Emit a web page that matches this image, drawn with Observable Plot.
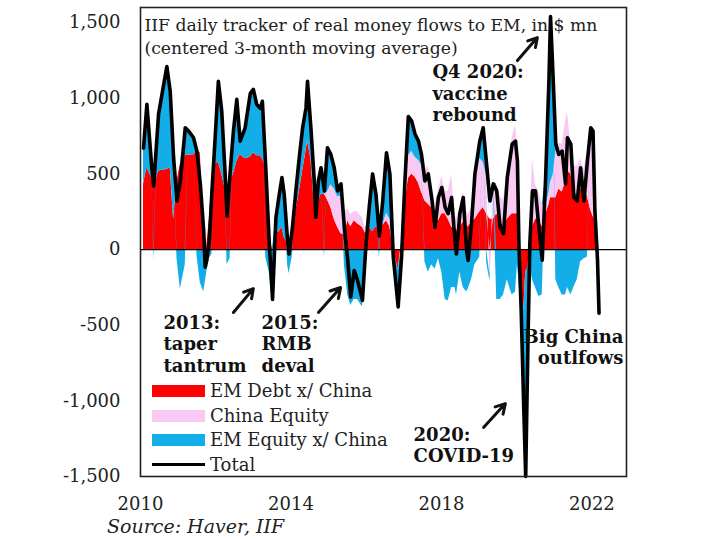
<!DOCTYPE html>
<html><head><meta charset="utf-8">
<script src="https://cdn.jsdelivr.net/npm/d3@7"></script>
<script src="https://cdn.jsdelivr.net/npm/@observablehq/plot@0.6"></script>
<style>
body{margin:0;background:#fff;}
#wrap{position:relative;width:723px;height:539px;font-family:"DejaVu Serif",serif;color:#222;}
#legend{position:absolute;left:152px;top:379px;font-size:18px;line-height:24.5px;}
.row{display:flex;align-items:center;height:24.5px;white-space:nowrap;}
.sw{width:53px;height:12px;margin-right:5px;flex:none;}
.ln{width:53px;height:3px;margin-right:5px;background:#000;flex:none;}
#source{position:absolute;left:107px;top:515px;font-style:italic;font-size:19px;white-space:nowrap;}
</style></head>
<body><div id="wrap"></div>
<script>
// decimal-year sample dates
const years = [
 2010.08, 2010.17, 2010.30, 2010.35, 2010.48, 2010.70, 2010.79, 2010.88, 2010.97, 2011.06,
 2011.19, 2011.28, 2011.41, 2011.50, 2011.59, 2011.68, 2011.72, 2011.76, 2011.83, 2011.90,
 2011.99, 2012.07, 2012.16, 2012.25, 2012.30, 2012.38, 2012.47, 2012.56, 2012.65, 2012.78,
 2012.92, 2013.00, 2013.09, 2013.18, 2013.24,
 2013.33, 2013.42, 2013.51, 2013.60, 2013.69, 2013.76, 2013.82, 2013.91, 2013.95, 2014.04,
 2014.13, 2014.22, 2014.31, 2014.40, 2014.44, 2014.53, 2014.62, 2014.66, 2014.73, 2014.80,
 2014.89, 2014.97, 2015.06, 2015.15, 2015.24, 2015.33, 2015.42, 2015.51, 2015.59, 2015.68,
 2015.77, 2015.90, 2015.99, 2016.08, 2016.17, 2016.26, 2016.35, 2016.44, 2016.54,
 2016.63, 2016.72, 2016.85, 2016.94, 2017.03, 2017.12, 2017.21, 2017.30, 2017.39, 2017.47,
 2017.56, 2017.65, 2017.74, 2017.83, 2017.92, 2018.01, 2018.10, 2018.18, 2018.27, 2018.36,
 2018.40, 2018.49, 2018.58, 2018.67, 2018.71, 2018.80, 2018.89, 2019.02, 2019.11, 2019.20,
 2019.29, 2019.38, 2019.47, 2019.56, 2019.65, 2019.75, 2019.88, 2019.97,
 2020.02, 2020.06, 2020.12, 2020.19, 2020.24, 2020.30, 2020.35, 2020.42, 2020.50, 2020.59,
 2020.68, 2020.77, 2020.86, 2020.90, 2020.97, 2021.04, 2021.12, 2021.21, 2021.30, 2021.35,
 2021.44, 2021.52, 2021.61, 2021.70, 2021.79, 2021.88, 2021.97, 2022.03, 2022.08, 2022.15,
 2022.19
];
// Total (black line), $ mn
const total = [
 671, 960, 541, 420, 895, 1210, 1046, 607, 322, 454,
 805, 783, 739, 651, 434, 125, -116, -72, 59, 388,
 762, 1112, 914, 500, 220, 500, 783, 993, 717, 803,
 1033, 1059, 960, 934, 980,
 541, 59, -330, 212, 366, 476, 366, 59, -29, 147,
 388, 607, 805, 936, 1112, 805, 454, 212, 454, 541,
 388, 673, 629, 541, 388, 434, 147, -72, -314, -138,
 -204, -336, 15, 278, 500, 366, 90, 322, 640,
 500, -50, -379, -50, 454, 880, 849, 762, 717, 629,
 454, 500, 344, 147, 344, 410, 278, 237, 344, 59,
 -29, 237, 344, -7, -72, 171, 500, 717, 805, 566,
 322, 434, 388, 150, 105, 476, 697, 717,
 585, 37, -400, -1059, -1500, -620, 37, 388, 388, 147,
 -70, 476, 1134, 1540, 1134, 697, 629, 651, 434, 739,
 697, 344, 322, 541, 322, 585, 805, 783, 257, -72,
 -421
];
// EM Debt x/ China (red)
const emDebt = [
 434, 540, 474, 408, 520, 530, 540, 200, 450, 566,
 620, 625, 625, 650, 640, 150, 0, 20, 200, 454,
 560, 580, 500, 400, 300, 450, 500, 580, 629, 600,
 610, 640, 620, 620, 600,
 540, 100, 0, 105, 120, 147, 80, 40, 40, 100,
 250, 380, 520, 650, 720, 600, 300, 190, 320, 366,
 366, 330, 278, 200, 147, 105, 100, 190, 150, 190,
 170, 147, 105, 147, 120, 147, 140, 160, 190,
 150, 0, -130, 50, 300, 470, 500, 480, 440, 380,
 322, 300, 278, 200, 190, 237, 237, 200, 150, 125,
 125, 150, 180, 150, 150, 180, 200, 250, 278, 237,
 200, 200, 237, 200, 150, 200, 237, 237,
 237, 100, -350, -400, -150, -120, 50, 150, 200, 200,
 150, 230, 300, 343, 343, 343, 400, 380, 450, 520,
 500, 400, 350, 400, 430, 350, 260, 220, 200, 50,
 0
];
// China Equity (pink)
const chinaEquity = [
 0, 0, 0, 0, 0, 0, 0, 0, 0, 0,
 0, 0, 0, 0, 0, 0, 0, 0, 0, 0,
 0, 0, 0, 0, 0, 0, 0, 0, 0, 0,
 0, 0, 0, 0, 0,
 0, 0, 0, 0, 0, 0, 0, 0, 0, 0,
 0, 0, 0, 0, 0, 0, 0, 0, 0, 0,
 0, 50, 150, 200, 200, 250, 150, 80, 80, 60,
 80, 60, 30, 0, 0, 0, 0, 0, 50,
 50, 0, 0, 0, 50, 150, 150, 130, 150, 180,
 200, 250, 150, 100, 200, 250, 150, 180, 350, 100,
 80, 120, 200, 100, 80, 100, 250, 350, 300, 250,
 -170, 200, 200, 150, 180, 300, 500, 590,
 450, 150, 0, 0, 0, 0, 100, 450, 230, 180,
 150, 50, 80, 100, 150, 300, 300, 320, 400, 390,
 200, 150, 200, 200, 100, 300, 500, 560, 150, 0,
 0
];
// EM Equity x/ China (blue): upper envelope (inflow days)
const emEquityUp = [
 237, 420, 67, 20, 375, 680, 506, 407, 0, 0,
 185, 158, 114, 0, 0, 0, 0, 0, 0, 0,
 202, 532, 414, 100, 0, 50, 283, 413, 88, 203,
 423, 419, 340, 314, 380,
 0, 0, 0, 107, 246, 329, 286, 19, 0, 47,
 138, 227, 285, 286, 392, 205, 154, 22, 134, 175,
 22, 293, 201, 141, 41, 79, 0, 0, 0, 0,
 0, 0, 0, 131, 380, 219, 0, 162, 400,
 300, 0, 0, 0, 104, 260, 199, 152, 127, 69,
 0, 0, 0, 0, 0, 0, 0, 0, 0, 0,
 0, 0, 0, 0, 0, 0, 50, 117, 227, 50,
 0, 34, 0, 0, 0, 0, 0, 0,
 0, 0, 0, 0, 0, 0, 0, 0, 0, 0,
 0, 196, 750, 900, 600, 54, 0, 0, 0, 0,
 0, 0, 0, 0, 0, 0, 45, 0, 0, 50,
 0
];
// EM Equity x/ China (blue): lower envelope (outflow days)
const emEquityDown = [
 0, 0, 0, -70, 0, 0, 0, 0, -60, -260,
 -100, 0, 0, -40, -220, -280, -220, -150, -60, -30,
 0, 0, 0, 0, -100, -60, 0, 0, 0, 0,
 0, 0, 0, 0, 0,
 -50, -150, -340, 0, 0, 0, 0, -100, -160, -40,
 0, 0, 0, 0, 0, 0, 0, 0, 0, 0,
 -60, 0, 0, 0, 0, 0, -100, -300, -370, -330,
 -330, -380, -150, 0, 0, 0, -60, 0, 0,
 0, -100, -270, -120, 0, 0, 0, 0, 0, 0,
 -80, -150, -100, -130, -60, -150, -330, -340, -250, -250,
 -300, -150, -250, -280, -260, -200, -100, -50, 0, -80,
 -40, 0, -330, -330, -300, -200, -300, -280,
 -100, -200, -100, -650, -1350, -500, -100, -200, -250, -310,
 -300, 0, 0, 0, 0, -200, -250, -300, -300, -250,
 -300, -250, -200, -80, -60, -50, 0, 0, 0, -100,
 -60
];
const yTicks = [-1500, -1000, -500, 0, 500, 1000, 1500];
const xTicks = [2010, 2014, 2018, 2022];
const seriesKeys = ["EM Debt x/ China", "China Equity", "EM Equity x/ China (in)", "EM Equity x/ China (out)"];
const seriesColors = ["#ff0000", "#f9c8f3", "#13aee8", "#13aee8"];
const legendItems = ["EM Debt x/ China", "China Equity", "EM Equity x/ China", "Total"];
const legendColors = ["#ff0000", "#f9c8f3", "#13aee8", "#000000"];
const title = "IIF daily tracker of real money flows to EM, in $ mn\n(centered 3-month moving average)";
const notesLeft = [
  {x: 2010.61, y: -621, label: "2013:\ntaper\ntantrum"},
  {x: 2013.22, y: -621, label: "2015:\nRMB\ndeval"},
  {x: 2017.76, y: 1036, label: "Q4 2020:\nvaccine\nrebound"},
  {x: 2017.26, y: -1289, label: "2020:\nCOVID-19"}
];
const notesRight = [
  {x: 2022.84, y: -641, label: "Big China\noutlfows"}
];
const arrows = [
  {x1: 2012.47, y1: -416, x2: 2013.00, y2: -258},
  {x1: 2014.73, y1: -416, x2: 2015.32, y2: -251},
  {x1: 2020.02, y1: 1249, x2: 2020.55, y2: 1401},
  {x1: 2019.12, y1: -1176, x2: 2019.70, y2: -1018}
];

const stackRows = [];
const comps = [emDebt, chinaEquity, emEquityUp, emEquityDown];
years.forEach((t, i) => comps.forEach((arr, k) => stackRows.push({t, series: seriesKeys[k], v: arr[i]})));
const lineRows = years.map((t, i) => ({t, v: total[i]}));
const fmt = d => (d < 0 ? "-" : "") + d3.format(",")(Math.abs(d));

const chart = Plot.plot({
  width: 723, height: 512,
  marginLeft: 140, marginRight: 97, marginTop: 7, marginBottom: 36,
  style: {fontFamily: "DejaVu Serif, serif", fontSize: "18px", color: "#222", background: "transparent", overflow: "visible"},
  x: {domain: [2010, 2022.92]},
  y: {domain: [-1500, 1600]},
  color: {domain: seriesKeys, range: seriesColors},
  marks: [
    Plot.areaY(stackRows, Plot.stackY({x: "t", y: "v", z: "series", fill: "series", order: seriesKeys, curve: "linear"})),
    Plot.ruleY([0], {stroke: "#000", strokeWidth: 1.3}),
    Plot.line(lineRows, {x: "t", y: "v", stroke: "#000", strokeWidth: 3.6, strokeLinejoin: "round"}),
    Plot.frame({stroke: "#222", strokeWidth: 1.6}),
    Plot.axisX({ticks: xTicks, tickFormat: d => String(d), tickSize: 0, tickPadding: 21, label: null, fontSize: 18}),
    Plot.axisY({ticks: yTicks, tickFormat: fmt, tickSize: 0, tickPadding: 20, label: null, fontSize: 18}),
    Plot.text([title], {x: () => 2010.106, y: () => 1418, text: d => d, textAnchor: "start", fontSize: 17.2, lineHeight: 1.33, fill: "#222"}),
    Plot.text(notesLeft, {x: "x", y: "y", text: "label", textAnchor: "start", fontWeight: "bold", fontSize: 18, lineHeight: 1.18, fill: "#111"}),
    Plot.text(notesRight, {x: "x", y: "y", text: "label", textAnchor: "end", fontWeight: "bold", fontSize: 18, lineHeight: 1.18, fill: "#111"}),
    Plot.arrow(arrows, {x1: "x1", y1: "y1", x2: "x2", y2: "y2", stroke: "#111", strokeWidth: 3, headLength: 11, headAngle: 60})
  ]
});

const wrap = document.getElementById("wrap");
wrap.appendChild(chart);
chart.style.position = "absolute"; chart.style.left = "0"; chart.style.top = "0";

const legend = document.createElement("div");
legend.id = "legend";
legendItems.forEach((name, i) => {
  const row = document.createElement("div"); row.className = "row";
  const sw = document.createElement("span");
  sw.className = name === "Total" ? "ln" : "sw";
  sw.style.background = legendColors[i];
  const lab = document.createElement("span"); lab.textContent = name;
  row.appendChild(sw); row.appendChild(lab); legend.appendChild(row);
});
wrap.appendChild(legend);

const src = document.createElement("div");
src.id = "source"; src.textContent = "Source: Haver, IIF";
wrap.appendChild(src);
</script>
</body></html>
